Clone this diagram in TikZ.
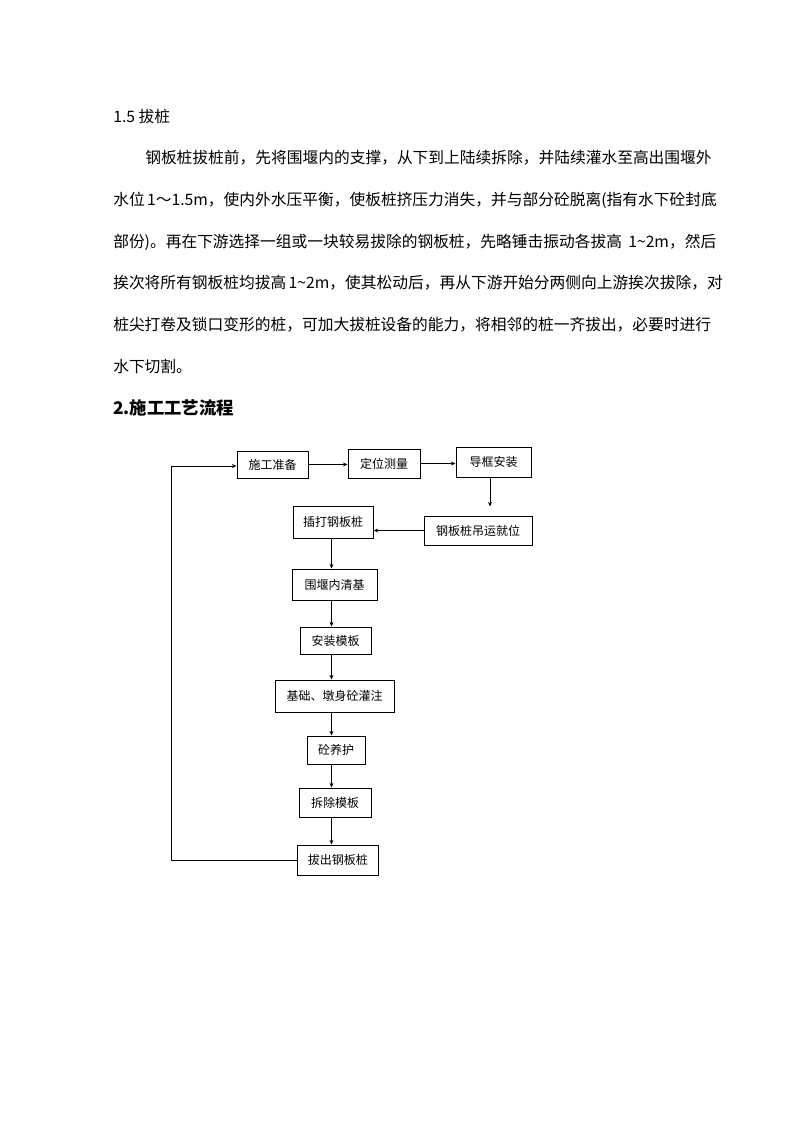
\documentclass[tikz,border=0pt]{standalone}
\usepackage{fontspec}
\setmainfont{Noto Sans CJK SC}
\usetikzlibrary{arrows.meta}
\newdimen\pxu \pxu=0.75pt
\XeTeXlinebreaklocale "zh"
\XeTeXlinebreakskip=0pt plus 1pt minus 0.25pt
\tikzset{
  box/.style={draw, line width=0.75pt, inner sep=0pt, font=\fontsize{9}{10}\selectfont},
  conn/.style={line width=0.75pt, -{Stealth[length=3.5pt,width=3pt]}},
  heavy/.style={line width=1.3pt, -{Stealth[length=3.5pt,width=3pt]}},
  txt/.style={anchor=west, inner sep=0pt, font=\fontsize{11.8}{14}\selectfont},
  head/.style={anchor=west, inner sep=0pt, font=\fontsize{13}{15}\selectfont\bfseries},
}
\begin{document}
\begin{tikzpicture}[x=0.75pt,y=-0.75pt]
\useasboundingbox (0,0) rectangle (794,1123);
\fill[white] (0,0) rectangle (794,1123);
% text
\node[txt] (t0) at (113,116.7) {1.5 拔桩};
\node[txt] (t1) at (145,158) {\hbox to 571\pxu{钢板桩拔桩前，先将围堰内的支撑，从下到上陆续拆除，并陆续灌水至高出围堰外}};
\node[txt] (t2) at (113,200) {\hbox to 603\pxu{水位 1～1.5m，使内外水压平衡，使板桩挤压力消失，并与部分砼脱离(指有水下砼封底}};
\node[txt] (t3) at (113,242) {\hbox to 603\pxu{部份)。再在下游选择一组或一块较易拔除的钢板桩，先略锤击振动各拔高 1\textasciitilde 2m，然后}};
\node[txt] (t4) at (113,283) {\hbox to 603\pxu{挨次将所有钢板桩均拔高 1\textasciitilde 2m，使其松动后，再从下游开始分两侧向上游挨次拔除，对}};
\node[txt] (t5) at (113,325) {\hbox to 603\pxu{桩尖打卷及锁口变形的桩，可加大拔桩设备的能力，将相邻的桩一齐拔出，必要时进行}};
\node[txt] (t6) at (113,366) {水下切割。};
\node[head] (h2) at (113,408) {2.施工工艺流程};
% boxes
\node[box, minimum width=71\pxu, minimum height=27\pxu] (shigong) at (272.5,464.5) {施工准备};
\node[box, minimum width=72\pxu, minimum height=29\pxu] (dingwei) at (384,463.5) {定位测量};
\node[box, minimum width=75\pxu, minimum height=30\pxu] (daokuang) at (493.5,462) {导框安装};
\node[box, minimum width=80\pxu, minimum height=32\pxu] (chada) at (333,522) {插打钢板桩};
\node[box, minimum width=108\pxu, minimum height=29\pxu] (diaoyun) at (478,530.5) {钢板桩吊运就位};
\node[box, minimum width=85\pxu, minimum height=31\pxu] (qingji) at (334.5,584.5) {围堰内清基};
\node[box, minimum width=71\pxu, minimum height=27\pxu] (anzhuang) at (335.5,640.5) {安装模板};
\node[box, minimum width=119\pxu, minimum height=32\pxu] (jichu) at (334.5,696) {基础、墩身砼灌注};
\node[box, minimum width=58\pxu, minimum height=28\pxu] (yanghu) at (336,750) {砼养护};
\node[box, minimum width=72\pxu, minimum height=29\pxu] (chaichu) at (335,802.5) {拆除模板};
\node[box, minimum width=81\pxu, minimum height=30\pxu] (bachu) at (337.8,860) {拔出钢板桩};
% connectors
\coordinate (dx) at (490,0);
\coordinate (sp) at (331.5,0);
\coordinate (lt) at (171.5,466);
\draw[conn] (shigong.east) -- (shigong.east -| dingwei.west);
\draw[conn] (dingwei.east) -- (dingwei.east -| daokuang.west);
\draw[conn, shorten >=9\pxu] (daokuang.south -| dx) -- (diaoyun.north -| dx);
\draw[conn] (diaoyun.west) -- (diaoyun.west -| chada.east);
\draw[conn] (chada.south -| sp) -- (qingji.north -| sp);
\draw[conn] (qingji.south -| sp) -- (anzhuang.north -| sp);
\draw[heavy] (anzhuang.south -| sp) -- (jichu.north -| sp);
\draw[heavy] (jichu.south -| sp) -- (yanghu.north -| sp);
\draw[conn] (yanghu.south -| sp) -- (chaichu.north -| sp);
\draw[heavy] (chaichu.south -| sp) -- (bachu.north -| sp);
\draw[conn] (bachu.west) -| (lt) -- (lt -| shigong.west);
\end{tikzpicture}
\end{document}
